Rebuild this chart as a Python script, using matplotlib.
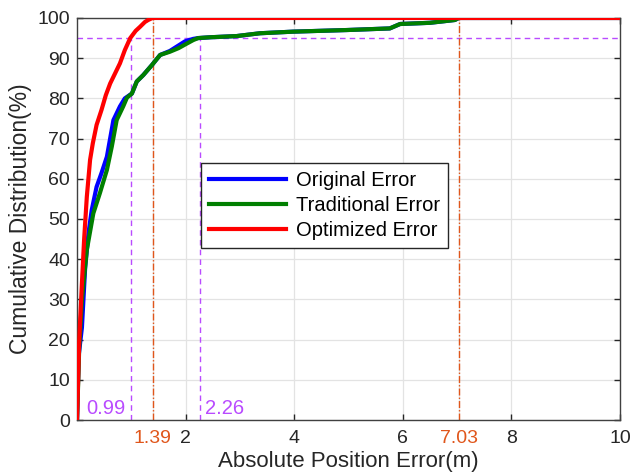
import matplotlib
matplotlib.use("Agg")
import matplotlib.pyplot as plt

plt.rcParams['font.family'] = ['Liberation Sans', 'DejaVu Sans']

# Optimized error CDF
opt_x = [0.0, 0.04, 0.09, 0.13, 0.18, 0.24, 0.29, 0.36, 0.45, 0.53, 0.61, 0.70, 0.79, 0.88, 0.98, 1.08, 1.16, 1.25, 1.31, 1.39, 10.0]
opt_y = [0.0, 19.9, 34.0, 44.8, 55.5, 64.7, 68.8, 73.4, 77.1, 80.8, 83.7, 86.2, 88.7, 92.0, 95.0, 96.8, 97.8, 99.0, 99.5, 100.0, 100.0]

# Original error CDF
orig_x = [0.0, 0.03, 0.09, 0.15, 0.21, 0.27, 0.36, 0.45, 0.55, 0.67, 0.79, 0.88, 1.01, 1.10, 1.22, 1.38, 1.53, 1.71, 1.85, 1.99, 2.14, 2.23, 2.45, 2.94, 3.37, 3.98, 4.97, 5.76, 5.95, 6.50, 6.96, 7.03, 10.0]
orig_y = [0.0, 16.0, 23.0, 38.0, 46.4, 52.2, 58.0, 61.4, 65.5, 74.6, 78.0, 80.0, 81.2, 84.2, 85.8, 88.3, 90.8, 91.8, 93.0, 94.2, 94.8, 95.0, 95.2, 95.5, 96.2, 96.6, 97.0, 97.4, 98.5, 98.8, 99.5, 100.0, 100.0]

# Traditional error CDF
trad_x = [0.0, 0.04, 0.09, 0.18, 0.30, 0.42, 0.55, 0.64, 0.73, 0.85, 0.92, 1.01, 1.10, 1.22, 1.38, 1.53, 1.71, 1.87, 1.99, 2.14, 2.23, 2.45, 2.94, 3.37, 3.98, 4.97, 5.76, 5.95, 6.50, 6.96, 7.03, 10.0]
trad_y = [0.0, 18.0, 29.9, 42.3, 51.4, 56.4, 62.2, 68.0, 74.6, 78.0, 80.2, 81.2, 84.2, 85.8, 88.3, 90.8, 91.6, 92.5, 93.4, 94.5, 95.0, 95.2, 95.5, 96.2, 96.6, 97.0, 97.4, 98.5, 98.8, 99.5, 100.0, 100.0]

labels = ["Original Error", "Traditional Error", "Optimized Error"]
colors = ["#0000FF", "#007F00", "#FF0000"]

p95_level = 95
p95_marks = [0.99, 2.26]
p100_marks = [1.39, 7.03]

xticks = [1.39, 2, 4, 6, 7.03, 8, 10]
xticklabels = ["1.39", "2", "4", "6", "7.03", "8", "10"]
yticks = list(range(0, 101, 10))

purple = "#B94BFF"
orange = "#E0561B"

fig = plt.figure(figsize=(6.42, 4.73), dpi=100)
ax = fig.add_axes([0.12, 0.112, 0.8457, 0.85])

ax.plot(orig_x, orig_y, color=colors[0], lw=3.0, label=labels[0], zorder=3)
ax.plot(trad_x, trad_y, color=colors[1], lw=3.0, label=labels[1], zorder=3)
ax.plot(opt_x, opt_y, color=colors[2], lw=3.0, label=labels[2], zorder=4)

# reference lines
ax.plot([0, 10], [p95_level, p95_level], color=purple, lw=1.0, ls=(0, (4, 3)), zorder=2)
for xv in p95_marks:
    ax.plot([xv, xv], [0, p95_level], color=purple, lw=1.0, ls=(0, (4, 3)), zorder=2)
for xv in p100_marks:
    ax.plot([xv, xv], [0, 100], color=orange, lw=1.0, ls=(0, (5, 1.5, 1, 1.5)), zorder=2)

ax.text(0.90, 2.9, "0.99", color=purple, fontsize=14.5, ha="right", va="center")
ax.text(2.36, 2.9, "2.26", color=purple, fontsize=14.5, ha="left", va="center")

ax.set_xlim(0, 10)
ax.set_ylim(0, 100)
ax.set_xticks(xticks)
ax.set_xticklabels(xticklabels)
ax.set_yticks(yticks)

ax.grid(True, color="#E3E3E3", lw=0.9)
ax.set_axisbelow(True)
for sp in ax.spines.values():
    sp.set_color("#404040")
    sp.set_linewidth(1.0)
ax.tick_params(direction="in", top=True, right=True, length=4, width=1.0,
               labelsize=14, colors="#262626", pad=5)
ax.tick_params(axis="x", pad=7)
for lbl, val in zip(ax.get_xticklabels(), xticks):
    if val in p100_marks:
        lbl.set_color(orange)
for t in ax.xaxis.get_major_ticks():
    if t.get_loc() in p100_marks:
        t.tick1line.set_visible(False)
        t.tick2line.set_visible(False)

ax.set_xlabel("Absolute Position Error(m)", fontsize=16, color="#262626", labelpad=3)
ax.set_ylabel("Cumulative Distribution(%)", fontsize=16.5, color="#262626", labelpad=4)

leg = ax.legend(loc="upper left", bbox_to_anchor=(0.21, 0.665), fontsize=14.5,
                handlelength=3.8, labelspacing=0.3, borderpad=0.4, handletextpad=0.5,
                fancybox=False, framealpha=1, edgecolor="#262626")
leg.get_frame().set_linewidth(1.0)
for line in leg.get_lines():
    line.set_linewidth(3.0)

fig.savefig("out.png", dpi=100)
